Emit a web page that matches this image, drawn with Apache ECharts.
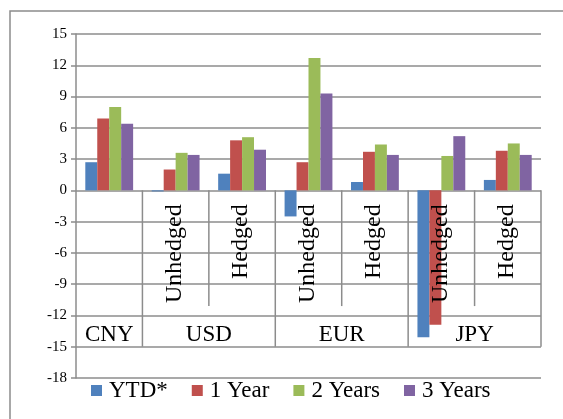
<!DOCTYPE html>
<html>
<head>
<meta charset="utf-8">
<script src="https://cdn.jsdelivr.net/npm/echarts@6/dist/echarts.min.js"></script>
<style>
html, body { margin: 0; background: #fff; }
#chart { width: 563px; height: 419px; }
</style>
</head>
<body>
<div id="chart"></div>
<script>
// sub-categories along the x axis (CNY has no sub label)
var subLabels = ['', 'Unhedged', 'Hedged', 'Unhedged', 'Hedged', 'Unhedged', 'Hedged'];
var groups = ['CNY', 'USD', 'EUR', 'JPY'];
var groupSpans = [1, 2, 2, 2];

var seriesNames = ['YTD*', '1 Year', '2 Years', '3 Years'];
var ytd = [2.7, -0.1, 1.6, -2.5, 0.8, -14.1, 1.0];
var oneYear = [6.9, 2.0, 4.8, 2.7, 3.7, -12.9, 3.8];
var twoYears = [8.0, 3.6, 5.1, 12.7, 4.4, 3.3, 4.5];
var threeYears = [6.4, 3.4, 3.9, 9.3, 3.4, 5.2, 3.4];

var yMin = -18, yMax = 15, yStep = 3;

var colors = ['#4f81bd', '#c0504d', '#9bbb59', '#8064a2'];
var gridColor = '#8c8c8c';
var serif = '"Liberation Serif", "Times New Roman", serif';

// group cells [start, end] in category units
var groupCells = [];
var pos = 0;
for (var i = 0; i < groups.length; i++) {
	groupCells.push([pos, pos + groupSpans[i]]);
	pos += groupSpans[i];
}
// separators between sub-categories inside a group
var subSeps = [];
for (var i = 0; i < groupCells.length; i++) {
	for (var k = groupCells[i][0] + 1; k < groupCells[i][1]; k++) subSeps.push([k]);
}
var subIdx = subLabels.map(function(s, i) { return [i]; });

var chart = echarts.init(document.getElementById('chart'));

var barSeries = [ytd, oneYear, twoYears, threeYears].map(function(d, i) {
	return {
		name: seriesNames[i],
		type: 'bar',
		data: d,
		barGap: 0,
		barCategoryGap: '28%',
		itemStyle: { color: colors[i] }
	};
});

function sepLine(a, b) {
	return {
		type: 'line',
		shape: { x1: a[0], y1: a[1], x2: b[0], y2: b[1] },
		style: { stroke: gridColor, lineWidth: 1.5 }
	};
}

var option = {
	animation: false,
	color: colors,
	graphic: [{
		type: 'rect',
		shape: { x: 10, y: 11, width: 700, height: 600 },
		style: { fill: 'none', stroke: gridColor, lineWidth: 1.5 },
		silent: true
	}],
	grid: {
		left: 76,
		right: 22,
		top: 34,
		bottom: 41,
		containLabel: false,
		outerBoundsMode: 'none'
	},
	legend: {
		data: seriesNames,
		left: 91,
		top: 379,
		padding: 0,
		icon: 'rect',
		itemWidth: 11,
		itemHeight: 11,
		itemGap: 24,
		textStyle: { fontFamily: serif, fontSize: 23, color: '#000', padding: [0, 0, 0, 2] }
	},
	xAxis: [{
		type: 'category',
		data: subLabels,
		axisLine: { show: false },
		axisTick: { show: false },
		axisLabel: { show: false }
	}, {
		type: 'value',
		min: 0,
		max: subLabels.length,
		show: false
	}],
	yAxis: {
		type: 'value',
		min: yMin,
		max: yMax,
		interval: yStep,
		axisLine: { show: true, onZero: false, lineStyle: { color: gridColor, width: 1.5 } },
		axisTick: { show: true, length: 5, lineStyle: { color: gridColor, width: 1.5 } },
		splitLine: { lineStyle: { color: gridColor, width: 1.5 } },
		axisLabel: { fontFamily: serif, fontSize: 15, color: '#000', margin: 9 }
	},
	series: barSeries.concat([{
		// rotated sub-category labels hanging below the zero line
		type: 'custom',
		xAxisIndex: 1,
		yAxisIndex: 0,
		z: 6,
		silent: true,
		data: subIdx,
		renderItem: function(params, api) {
			var i = api.value(0);
			if (!subLabels[i]) return null;
			var p = api.coord([i + 0.5, 0]);
			return {
				type: 'text',
				x: p[0] - 1,
				y: p[1] + 14,
				rotation: Math.PI / 2,
				style: {
					text: subLabels[i],
					align: 'right',
					verticalAlign: 'middle',
					fontFamily: serif,
					fontSize: 24,
					fill: '#000'
				}
			};
		}
	}, {
		type: 'custom',
		xAxisIndex: 1,
		yAxisIndex: 0,
		z: 5,
		silent: true,
		data: subSeps,
		renderItem: function(params, api) {
			return sepLine(api.coord([api.value(0), 0]), api.coord([api.value(0), -11.1]));
		}
	}, {
		type: 'custom',
		xAxisIndex: 1,
		yAxisIndex: 0,
		z: 5,
		silent: true,
		data: groupCells,
		renderItem: function(params, api) {
			var s = api.value(0), e = api.value(1);
			var mid = api.coord([(s + e) / 2, -13.5]);
			return {
				type: 'group',
				children: [sepLine(api.coord([e, 0]), api.coord([e, -15])), {
					type: 'text',
					style: {
						text: groups[params.dataIndex],
						x: mid[0],
						y: mid[1] + 4,
						align: 'center',
						verticalAlign: 'middle',
						fontFamily: serif,
						fontSize: 23,
						fill: '#000'
					}
				}]
			};
		}
	}])
};
chart.setOption(option);
</script>
</body>
</html>
